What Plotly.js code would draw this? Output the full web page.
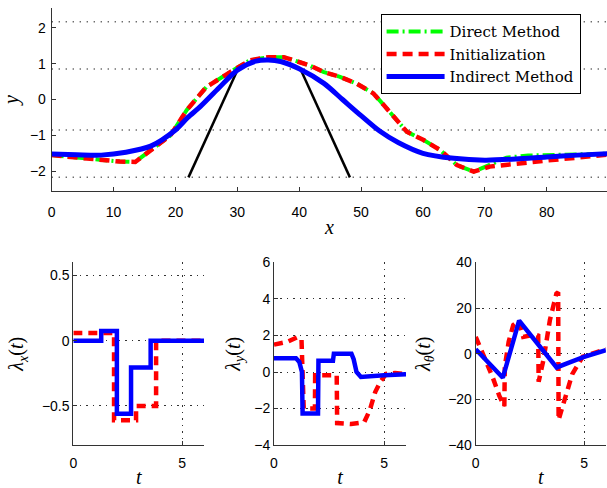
<!DOCTYPE html>
<html><head><meta charset="utf-8">
<script src="https://cdn.plot.ly/plotly-3.0.1.min.js"></script>
<style>html,body{margin:0;padding:0;background:#fff}#chart{width:607px;height:488px}</style>
</head><body><div id="chart"></div>
<script>
// ---- Top panel: paths y(x) ----
const xDirect = [0,4,8,11,13.5,16,19.2,21.8,25,28.9,32,35,37.5,39,41.7,43.9,46.6,49.3,52,53.7,55.8,57.4,60.1,62.8,65.5,68.2,70.8,73.5,77,80,85,90];
const yDirect = [-1.55,-1.62,-1.7,-1.73,-1.74,-1.41,-1.0,-0.3,0.35,0.77,1.09,1.18,1.18,1.1,0.95,0.77,0.63,0.44,0.17,-0.16,-0.57,-0.9,-1.13,-1.41,-1.83,-2.01,-1.82,-1.62,-1.56,-1.54,-1.53,-1.51];
const xInit = [0,4,8,11,13.5,16,19.2,21.8,25,28.9,32,35,37.5,39,41.7,43.9,46.6,49.3,52,53.7,55.8,57.4,60.1,62.8,65.5,68.2,70.8,75,80,85,90];
const yInit = [-1.55,-1.62,-1.7,-1.73,-1.74,-1.41,-1.0,-0.3,0.35,0.77,1.09,1.18,1.18,1.1,0.95,0.77,0.63,0.44,0.17,-0.16,-0.57,-0.9,-1.13,-1.41,-1.83,-2.01,-1.87,-1.78,-1.7,-1.62,-1.53];
const xIndirect = [0,4,8,12,16,20,22,24,27,30,33,35,37,40,44,47,50,53,56,60,65,70,75,80,85,90];
const yIndirect = [-1.52,-1.54,-1.55,-1.47,-1.3,-0.85,-0.5,-0.2,0.32,0.82,1.07,1.1,1.06,0.86,0.45,0.0,-0.45,-0.88,-1.2,-1.5,-1.64,-1.69,-1.66,-1.6,-1.55,-1.51];
const laneY = [2.17, 0.85, -0.85, -2.17];
const laneX = [0, 90];
const obstacleX = [22.1, 30.1, null, 40.2, 48.2];
const obstacleY = [-2.17, 0.85, null, 0.85, -2.17];

// ---- Bottom panels: costates ----
const tLxInit = [0,1.87,2.88,3.8,6];
const lxInit  = [0.06,-0.61,-0.5,0,0];
const tLxInd  = [0,1.28,2.0,2.65,3.55,6];
const lxInd   = [0,0.075,-0.56,-0.205,0,0];

const tLyInit = [0,0.6,1.05,1.25,1.35,1.86,1.87,2.85,2.87,3.5,4.1,4.35,4.6,4.85,5.1,5.5,6];
const lyInit  = [1.5,1.65,1.9,1.8,-2.0,-2.0,-0.18,-0.18,-2.8,-2.85,-2.75,-2.1,-1.1,-0.5,-0.1,-0.05,-0.12];
const tLyInd  = [0,1.0,1.15,1.27,1.3,2.0,2.02,2.68,2.72,3.52,3.62,3.75,3.95,4.5,5.0,6.0];
const lyInd   = [0.75,0.75,0.55,0,-2.28,-2.28,0.62,0.62,1.0,1.0,0.7,0.0,-0.27,-0.25,-0.18,-0.12];

const tLthInit = [0,0.77,1.09,1.32,1.34,1.52,1.73,1.98,2.19,2.73,2.88,2.9,3.12,3.42,3.72,3.8,3.82,4.19,4.45,4.93,5.5,6];
const lthInit  = [7.4,-10,-18.5,-23,-5.7,5.3,12.6,14.5,7.4,8.5,8,-12.3,-2.8,14.8,26.4,27,-29,-17.4,-8.9,-1.3,0.5,2.0];
const tLthInd  = [0,1.25,2.0,3.73,4.3,4.96,6];
const lthInd   = [2,-10.5,14.5,-6,-3.9,-1.5,1.6];

const RED = '#ff0000', BLUE = '#0000ff', GREEN = '#00ff00';
const traces = [];
laneY.forEach(v => traces.push({x: laneX, y: [v, v], mode: 'lines', showlegend: false, hoverinfo: 'skip',
  line: {color: '#333', width: 1.5, dash: '1px,6px'}, xaxis: 'x', yaxis: 'y'}));
traces.push({x: obstacleX, y: obstacleY, mode: 'lines', showlegend: false, connectgaps: false,
  line: {color: '#000', width: 2.5}, xaxis: 'x', yaxis: 'y'});
traces.push({x: xDirect, y: yDirect, name: 'Direct Method', mode: 'lines',
  line: {color: GREEN, width: 4, dash: '12px,4px,2px,4px'}, xaxis: 'x', yaxis: 'y'});
traces.push({x: xInit, y: yInit, name: 'Initialization', mode: 'lines',
  line: {color: RED, width: 4.5, dash: '10px,6px'}, xaxis: 'x', yaxis: 'y'});
traces.push({x: xIndirect, y: yIndirect, name: 'Indirect Method', mode: 'lines',
  line: {color: BLUE, width: 5, shape: 'spline', smoothing: 0.8}, xaxis: 'x', yaxis: 'y'});

traces.push({x: tLxInit, y: lxInit, mode: 'lines', showlegend: false, line: {color: RED, width: 4.5, dash: '9px,6px', shape: 'hv'}, xaxis: 'x2', yaxis: 'y2'});
traces.push({x: tLxInd, y: lxInd, mode: 'lines', showlegend: false, line: {color: BLUE, width: 4.5, shape: 'hv'}, xaxis: 'x2', yaxis: 'y2'});
traces.push({x: tLyInit, y: lyInit, mode: 'lines', showlegend: false, line: {color: RED, width: 4.5, dash: '9px,6px'}, xaxis: 'x3', yaxis: 'y3'});
traces.push({x: tLyInd, y: lyInd, mode: 'lines', showlegend: false, line: {color: BLUE, width: 4.5}, xaxis: 'x3', yaxis: 'y3'});
traces.push({x: tLthInit, y: lthInit, mode: 'lines', showlegend: false, line: {color: RED, width: 4.5, dash: '9px,6px'}, xaxis: 'x4', yaxis: 'y4'});
traces.push({x: tLthInd, y: lthInd, mode: 'lines', showlegend: false, line: {color: BLUE, width: 4.5}, xaxis: 'x4', yaxis: 'y4'});

const tickFont = {family: 'Liberation Sans, Arial, sans-serif', size: 14, color: '#000'};
const titleFont = {family: 'Liberation Serif, Times New Roman, serif', size: 20, color: '#000'};
function ax(extra) {
  return Object.assign({showline: true, linecolor: '#333', linewidth: 1, ticks: 'inside', ticklen: 4,
    tickcolor: '#333', zeroline: false, showgrid: false, tickfont: tickFont, fixedrange: true}, extra);
}
function gridAx(extra) {
  return ax(Object.assign({showgrid: true, griddash: '1.5px,5px', gridcolor: '#333', gridwidth: 1}, extra));
}
const bDom = [0.0881, 0.4621];
const layout = {
  width: 607, height: 488, margin: {l: 0, r: 0, t: 0, b: 0},
  paper_bgcolor: '#fff', plot_bgcolor: 'rgba(0,0,0,0)',
  showlegend: true,
  legend: {x: 0.627, y: 0.971, xanchor: 'left', yanchor: 'top', bgcolor: '#fff', bordercolor: '#000', borderwidth: 1,
    font: {family: 'DejaVu Serif, serif', size: 15, color: '#000'}, itemwidth: 58, tracegroupgap: 0},
  xaxis: ax({domain: [0.0852, 1], range: [0, 89.75], dtick: 10, tick0: 0, anchor: 'y', ticklabelstandoff: 8,
    title: {text: '<i>x</i>', font: titleFont, standoff: 1}}),
  yaxis: ax({domain: [0.6086, 0.9836], range: [-2.55, 2.55], dtick: 1, anchor: 'x', ticklabelstandoff: 2,
    title: {text: '<i>y</i>', font: titleFont, standoff: 10}}),
  xaxis2: gridAx({domain: [0.1208, 0.3361], range: [0, 6], dtick: 5, anchor: 'y2', ticklabelstandoff: 5,
    title: {text: '<i>t</i>', font: titleFont, standoff: 6}}),
  yaxis2: gridAx({domain: bDom, range: [-0.8, 0.6], dtick: 0.5, anchor: 'x2',
    title: {text: '<i>λ<sub>x</sub></i>(<i>t</i>)', font: titleFont, standoff: 12}}),
  xaxis3: gridAx({domain: [0.4514, 0.6689], range: [0, 6], dtick: 5, anchor: 'y3', ticklabelstandoff: 5,
    title: {text: '<i>t</i>', font: titleFont, standoff: 6}}),
  yaxis3: gridAx({domain: bDom, range: [-4, 6], dtick: 2, anchor: 'x3',
    title: {text: '<i>λ<sub>y</sub></i>(<i>t</i>)', font: titleFont, standoff: 8}}),
  xaxis4: gridAx({domain: [0.7837, 0.9982], range: [0, 6], dtick: 5, anchor: 'y4', ticklabelstandoff: 5,
    title: {text: '<i>t</i>', font: titleFont, standoff: 6}}),
  yaxis4: gridAx({domain: bDom, range: [-40, 40], dtick: 20, anchor: 'x4',
    title: {text: '<i>λ<sub>θ</sub></i>(<i>t</i>)', font: titleFont, standoff: 12}})
};
Plotly.newPlot('chart', traces, layout, {staticPlot: true, displayModeBar: false});
</script></body></html>
